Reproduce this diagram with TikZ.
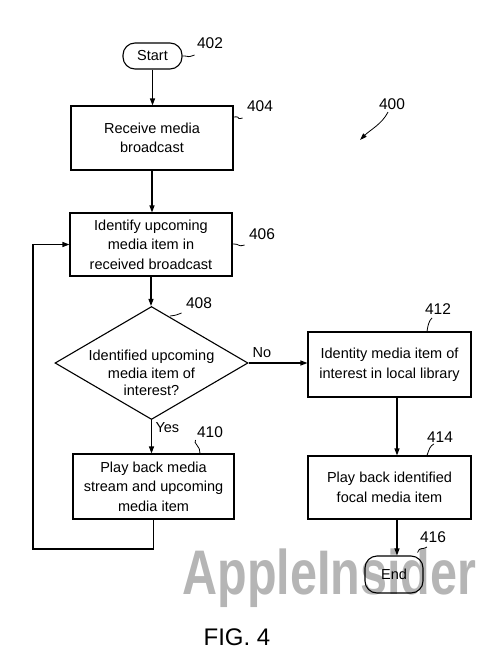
\documentclass[tikz,border=0pt]{standalone}
\usepackage{fontspec}
\setmainfont{Liberation Sans}
\usetikzlibrary{arrows.meta,shapes.geometric}
\definecolor{wm}{gray}{0.71}
\begin{document}
\begin{tikzpicture}[x=1pt,y=-1pt,line width=1.1pt,
  txt/.style={font=\fontsize{14.5}{19.5}\selectfont},
  box/.style={draw,rectangle,align=center,txt,inner sep=0pt},
  term/.style={draw,rounded corners=12pt,align=center,txt,inner sep=0pt},
  arr/.style={-{Triangle[length=7pt,width=5pt]}},
  lead/.style={line width=0.8pt},
  num/.style={font=\fontsize{15.5}{15.5}\selectfont,inner sep=0pt}]
\useasboundingbox (0,0) rectangle (496,661);

% watermark
\node[anchor=base,text=wm,inner sep=0pt,font=\fontsize{63}{63}\selectfont\bfseries] (wmark) at (329.5,594) {\scalebox{0.77}[1]{AppleInsider}};

% nodes
\node[term,minimum width=59pt,minimum height=26pt] (start) at (152.5,56) {Start};
\node[box,minimum width=162pt,minimum height=64pt] (b404) at (152,138) {Receive media\\broadcast};
\node[box,minimum width=162pt,minimum height=63pt] (b406) at (151,244.5) {Identify upcoming\\media item in\\received broadcast};
\node[draw,diamond,inner sep=0pt,minimum width=193pt,minimum height=113pt] (d) at (151.5,363) {};
\node[align=center,inner sep=0pt,font=\fontsize{14.5}{17.5}\selectfont] (dtext) at (151.5,373) {Identified upcoming\\media item of\\interest?};
\node[box,minimum width=161pt,minimum height=65pt] (b410) at (153.5,486.5) {Play back media\\stream and upcoming\\media item};
\node[box,minimum width=163pt,minimum height=65pt] (b412) at (389.5,364.5) {Identity media item of\\interest in local library};
\node[box,minimum width=163pt,minimum height=63pt] (b414) at (389.5,487.5) {Play back identified\\focal media item};
\node[term,minimum width=58pt,minimum height=37pt] (end) at (394,574.5) {End};

% reference numbers
\node[num] (n402) at (210,43) {402};
\node[num] (n404) at (260,106) {404};
\node[num] (n406) at (262,234) {406};
\node[num] (n408) at (199,303) {408};
\node[num] (n410) at (210,432) {410};
\node[num] (n412) at (438,309) {412};
\node[num] (n414) at (440,437) {414};
\node[num] (n416) at (433,537) {416};
\node[num] (n400) at (392,104) {400};

% labels on connectors
\node[txt,inner sep=0pt,anchor=west] (yes) at (155,428) {Yes};
\node[txt,inner sep=0pt] (no) at (262,353) {No};

% connectors
\draw[arr] (start.south) -- (start.south |- b404.north);
\draw[arr] (b404.south) -- (b404.south |- b406.north);
\draw[arr] (b406.south) -- (b406.south |- d.north);
\draw[arr] (d.south) -- (d.south |- b410.north);
\draw[arr] (d.east) -- (d.east -| b412.west);
\draw[arr] ([xshift=7.5pt]b412.south) -- ([xshift=7.5pt]b412.south |- b414.north);
\draw[arr] ([xshift=7.5pt]b414.south) -- ([xshift=7.5pt]b414.south |- end.north);
\coordinate (lp) at (33,549);
\draw[arr] (b410.south) |- (lp) |- (b406.west);

% leaders
\draw[lead] (start.east) .. controls +(9,0) and +(-9,3) .. ([shift={(-2,6)}]n402.south west);
\draw[lead] ([yshift=21pt]b404.east) .. controls +(9,-1) and +(-8,2) .. ([shift={(-4,6)}]n404.south west);
\draw[lead] ([yshift=0.5pt]b406.east) .. controls +(9,0) and +(-8,2) .. ([shift={(-4,5)}]n406.south west);
\draw[lead] (170,316) .. controls +(8,-1) and +(-6,2) .. ([shift={(-4,4)}]n408.south west);
\draw[lead] ([xshift=46.5pt]b410.north) .. controls +(1,-7) and +(-3,3) .. ([shift={(-1,2)}]n410.south west);
\draw[lead] ([xshift=37.5pt]b412.north) .. controls +(1,-7) and +(-3,3) .. ([shift={(-6,3)}]n412.south);
\draw[lead] ([xshift=37.5pt]b414.north) .. controls +(2,-6) and +(-4,2) .. ([shift={(-6,1)}]n414.south);
\draw[lead] ([shift={(-6,-3)}]end.north east) .. controls +(2,-6) and +(-4,3) .. ([shift={(-6,4)}]n416.south);
\draw[lead,-{Triangle[length=7pt,width=4.5pt]}] ([shift={(-4,2)}]n400.south) .. controls +(-6,12) and +(10,-10) .. (360,140);

% caption
\node[inner sep=0pt,font=\fontsize{24}{24}\selectfont] (fig) at (237,637) {FIG. 4};
\end{tikzpicture}
\end{document}
